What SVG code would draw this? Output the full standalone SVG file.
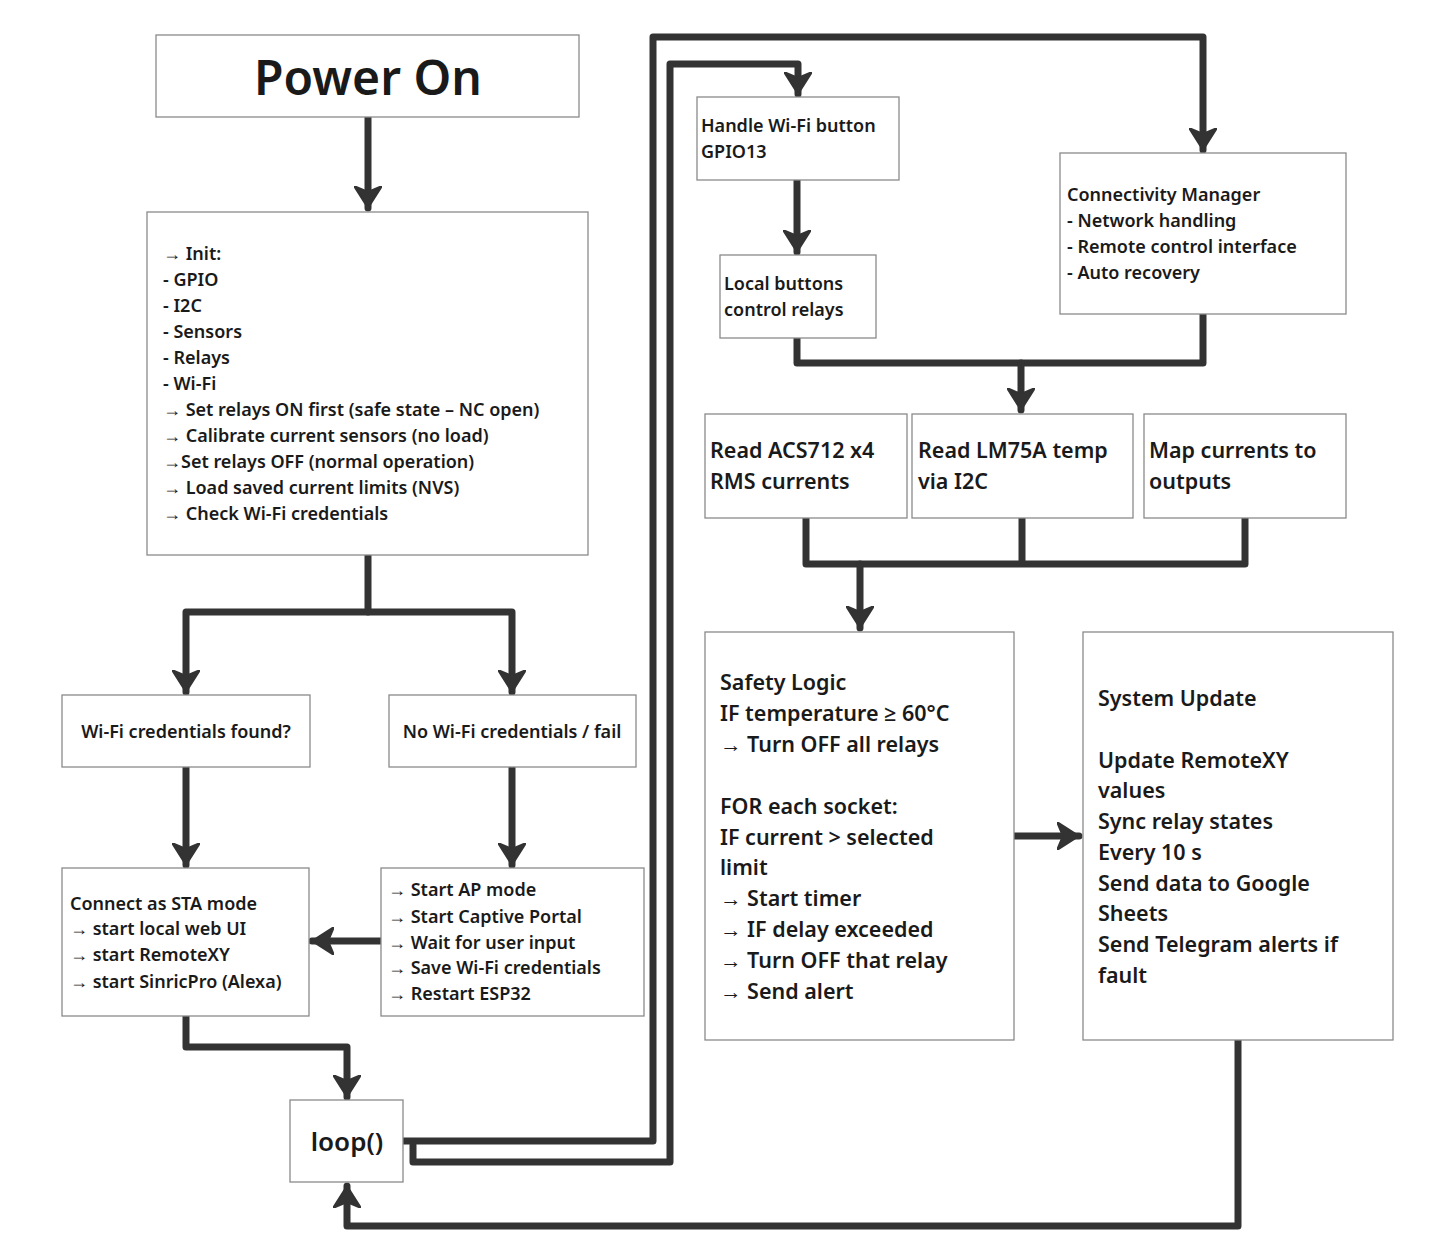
<svg xmlns="http://www.w3.org/2000/svg" width="1430" height="1255" viewBox="0 0 1430 1255">
<style>
.b{fill:#fff;stroke:#8a8a8a;stroke-width:1.3}
.t{font-family:"Noto Sans","Open Sans",sans-serif;font-weight:600;fill:#1a1a1a}
.s{font-size:18px}.m{font-size:21.5px}
.c{fill:none;stroke:#333;stroke-width:7;stroke-linejoin:round;stroke-linecap:round}
</style>
<defs>
<marker id="a" markerUnits="userSpaceOnUse" markerWidth="32" markerHeight="28" refX="22" refY="14" orient="auto">
<path d="M0,0 L22,14 L0,28 L6,14 Z" fill="#333" stroke="#333" stroke-width="2" stroke-linejoin="round"/>
</marker>
</defs>
<rect width="1430" height="1255" fill="#fff"/>
<g id="connectors" class="c">
<path d="M368,117 V208" marker-end="url(#a)"/>
<path d="M368,555 V612 H186 V692" marker-end="url(#a)"/>
<path d="M368,612 H512 V692" marker-end="url(#a)"/>
<path d="M186,767 V865" marker-end="url(#a)"/>
<path d="M512,767 V865" marker-end="url(#a)"/>
<path d="M381,941 H312" marker-end="url(#a)"/>
<path d="M186,1016 V1047 H347 V1097" marker-end="url(#a)"/>
<path d="M403,1141 H653 V37 H1203 V150" marker-end="url(#a)"/>
<path d="M413,1145 V1162 H670 V64 H798 V94" marker-end="url(#a)"/>
<path d="M797,180 V252" marker-end="url(#a)"/>
<path d="M797,338 V363 H1203 V314"/>
<path d="M1021,363 V410" marker-end="url(#a)"/>
<path d="M806,518 V564 H1245 V518 M1022,518 V564"/>
<path d="M860,564 V628" marker-end="url(#a)"/>
<path d="M1014,836 H1079" marker-end="url(#a)"/>
<path d="M1238,1040 V1226 H347 V1186" marker-end="url(#a)"/>
</g>
<g id="power"><rect class="b" x="156" y="35" width="423" height="82"/><text class="t" x="368" y="95" font-size="48" font-weight="700" text-anchor="middle">Power On</text></g>
<g id="init"><rect class="b" x="147" y="212" width="441" height="343"/>
<text class="t s" x="163" y="260">→ Init:</text>
<text class="t s" x="163" y="286">- GPIO</text>
<text class="t s" x="163" y="312">- I2C</text>
<text class="t s" x="163" y="338">- Sensors</text>
<text class="t s" x="163" y="364">- Relays</text>
<text class="t s" x="163" y="390">- Wi-Fi</text>
<text class="t s" x="163" y="416">→ Set relays ON first (safe state – NC open)</text>
<text class="t s" x="163" y="442">→ Calibrate current sensors (no     load)</text>
<text class="t s" x="163" y="468">→Set relays OFF (normal operation)</text>
<text class="t s" x="163" y="494">→ Load saved current limits (NVS)</text>
<text class="t s" x="163" y="520">→ Check Wi-Fi credentials</text></g>
<g id="found"><rect class="b" x="62" y="695" width="248" height="72"/><text class="t s" x="186" y="738" text-anchor="middle">Wi-Fi credentials found?</text></g>
<g id="nocred"><rect class="b" x="389" y="695" width="247" height="72"/><text class="t s" x="512" y="738" text-anchor="middle">No Wi-Fi credentials / fail</text></g>
<g id="sta"><rect class="b" x="62" y="868" width="247" height="148"/>
<text class="t s" x="70" y="910">Connect as STA mode</text>
<text class="t s" x="70" y="935">→ start local web UI</text>
<text class="t s" x="70" y="961">→ start RemoteXY</text>
<text class="t s" x="70" y="988">→ start SinricPro (Alexa)</text></g>
<g id="ap"><rect class="b" x="381" y="868" width="263" height="148"/>
<text class="t s" x="388" y="896">→ Start AP mode</text>
<text class="t s" x="388" y="923">→ Start Captive Portal</text>
<text class="t s" x="388" y="949">→ Wait for user input</text>
<text class="t s" x="388" y="974">→ Save Wi-Fi credentials</text>
<text class="t s" x="388" y="1000">→ Restart ESP32</text></g>
<g id="loop"><rect class="b" x="290" y="1100" width="113" height="82"/><text class="t" x="347" y="1151" font-size="26" font-weight="700" text-anchor="middle">loop()</text></g>
<g id="wifibtn"><rect class="b" x="697" y="97" width="202" height="83"/>
<text class="t s" x="701" y="132">Handle Wi-Fi button</text>
<text class="t s" x="701" y="158">GPIO13</text></g>
<g id="local"><rect class="b" x="720" y="255" width="156" height="83"/>
<text class="t s" x="724" y="290">Local buttons</text>
<text class="t s" x="724" y="316">control relays</text></g>
<g id="conn"><rect class="b" x="1060" y="153" width="286" height="161"/>
<text class="t s" x="1067" y="201">Connectivity Manager</text>
<text class="t s" x="1067" y="227">- Network handling</text>
<text class="t s" x="1067" y="253">- Remote control interface</text>
<text class="t s" x="1067" y="279">- Auto recovery</text></g>
<g id="acs"><rect class="b" x="705" y="414" width="202" height="104"/>
<text class="t m" x="710" y="458">Read ACS712 x4</text>
<text class="t m" x="710" y="489">RMS currents</text></g>
<g id="lm75"><rect class="b" x="912" y="414" width="221" height="104"/>
<text class="t m" x="918" y="458">Read LM75A temp</text>
<text class="t m" x="918" y="489">via I2C</text></g>
<g id="map"><rect class="b" x="1144" y="414" width="202" height="104"/>
<text class="t m" x="1149" y="458">Map currents to</text>
<text class="t m" x="1149" y="489">outputs</text></g>
<g id="safety"><rect class="b" x="705" y="632" width="309" height="408"/>
<text class="t m" x="720" y="690">Safety Logic</text>
<text class="t m" x="720" y="721">IF temperature ≥ 60°C</text>
<text class="t m" x="720" y="752">→ Turn OFF all relays</text>
<text class="t m" x="720" y="814">FOR each socket:</text>
<text class="t m" x="720" y="845">IF current &gt; selected</text>
<text class="t m" x="720" y="875">limit</text>
<text class="t m" x="720" y="906">→ Start timer</text>
<text class="t m" x="720" y="937">→ IF delay exceeded</text>
<text class="t m" x="720" y="968">→ Turn OFF that relay</text>
<text class="t m" x="720" y="999">→ Send alert</text></g>
<g id="update"><rect class="b" x="1083" y="632" width="310" height="408"/>
<text class="t m" x="1098" y="706">System Update</text>
<text class="t m" x="1098" y="768">Update RemoteXY</text>
<text class="t m" x="1098" y="798">values</text>
<text class="t m" x="1098" y="829">Sync relay states</text>
<text class="t m" x="1098" y="860">Every 10 s</text>
<text class="t m" x="1098" y="891">Send data to Google</text>
<text class="t m" x="1098" y="921">Sheets</text>
<text class="t m" x="1098" y="952">Send Telegram alerts if</text>
<text class="t m" x="1098" y="983">fault</text></g>
</svg>
